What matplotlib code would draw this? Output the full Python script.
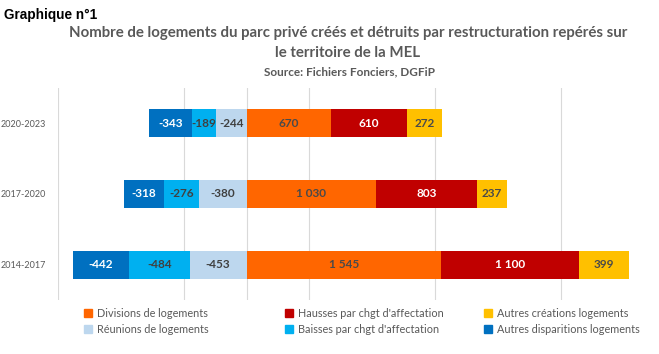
import matplotlib
matplotlib.use("Agg")
import matplotlib.pyplot as plt
from matplotlib.patches import Patch

categories = ["2020-2023", "2017-2020", "2014-2017"]
divisions = [670, 1030, 1545]
hausses = [610, 803, 1100]
autres_creations = [272, 237, 399]
reunions = [-244, -380, -453]
baisses = [-189, -276, -484]
autres_disparitions = [-343, -318, -442]
grid_ticks = [-1500, -500, 0, 500, 1500, 2500]

fig = plt.figure(figsize=(6.59, 3.54), dpi=100)
ax = fig.add_axes([58/659, 1-300/354, (640-58)/659, (300-88)/354])

y = list(range(len(categories)))
h = 0.4

def fmt(v):
    return f"{v:,}".replace(",", " ")

series_pos = [
    ("Divisions de logements", divisions, "#FF6600", "#4a4a4a"),
    ("Hausses par chgt d'affectation", hausses, "#C00000", "white"),
    ("Autres créations logements", autres_creations, "#FFC000", "#4a4a4a"),
]
series_neg = [
    ("Réunions de logements", reunions, "#BDD7EE", "#404040"),
    ("Baisses par chgt d'affectation", baisses, "#00B0F0", "#404040"),
    ("Autres disparitions logements", autres_disparitions, "#0070C0", "white"),
]

handles = {}
for group in (series_pos, series_neg):
    base = [0]*len(categories)
    for name, vals, col, tcol in group:
        ax.barh(y, vals, left=base, height=h, color=col, zorder=3)
        handles[name] = Patch(color=col, label=name)
        for yi, b, v in zip(y, base, vals):
            ax.text(b + v/2, yi, fmt(v), ha="center", va="center",
                    color=tcol, fontsize=8.5, fontweight="bold",
                    family="Lato", zorder=4)
        base = [b + v for b, v in zip(base, vals)]

ax.set_xlim(-1500, 3130)
ax.set_ylim(2.5, -0.5)
ax.set_xticks(grid_ticks)
ax.set_xticklabels([])
ax.tick_params(axis="x", length=0)
ax.tick_params(axis="y", length=0, pad=9)
ax.set_yticks(y)
ax.set_yticklabels(categories, fontsize=6.5, color="#595959", family="Lato")
ax.grid(axis="x", color="#D9D9D9", linewidth=0.8, zorder=0)
for s in ax.spines.values():
    s.set_visible(False)

fig.text(4/659, 1-15/354, "Graphique n°1", fontsize=9.8, fontweight="bold",
         family="Liberation Sans", color="black", va="center", ha="left")
fig.text(348/659, 1-33/354,
         "Nombre de logements du parc privé créés et détruits par restructuration repérés sur",
         fontsize=10.8, fontweight="bold", family="Lato", color="#595959",
         ha="center", va="center")
fig.text(348/659, 1-53/354, "le territoire de la MEL",
         fontsize=10.8, fontweight="bold", family="Lato", color="#595959",
         ha="center", va="center")
fig.text(350/659, 1-72/354, "Source: Fichiers Fonciers, DGFiP",
         fontsize=8.5, fontweight="bold", family="Lato", color="#595959",
         ha="center", va="center")

legend_cols = [
    (["Divisions de logements", "Réunions de logements"], 84),
    (["Hausses par chgt d'affectation", "Baisses par chgt d'affectation"], 285),
    (["Autres créations logements", "Autres disparitions logements"], 484),
]
for names, xpx in legend_cols:
    leg = fig.legend(handles=[handles[n] for n in names], ncol=1,
                     loc="center left", bbox_to_anchor=(xpx/659, 1-321.5/354),
                     frameon=False, handlelength=0.7, handleheight=0.7,
                     handletextpad=0.5, labelspacing=0.45,
                     borderpad=0, borderaxespad=0,
                     prop={"family": "Lato", "size": 7.8})
    for t in leg.get_texts():
        t.set_color("#595959")

fig.savefig("out.png", dpi=100)
